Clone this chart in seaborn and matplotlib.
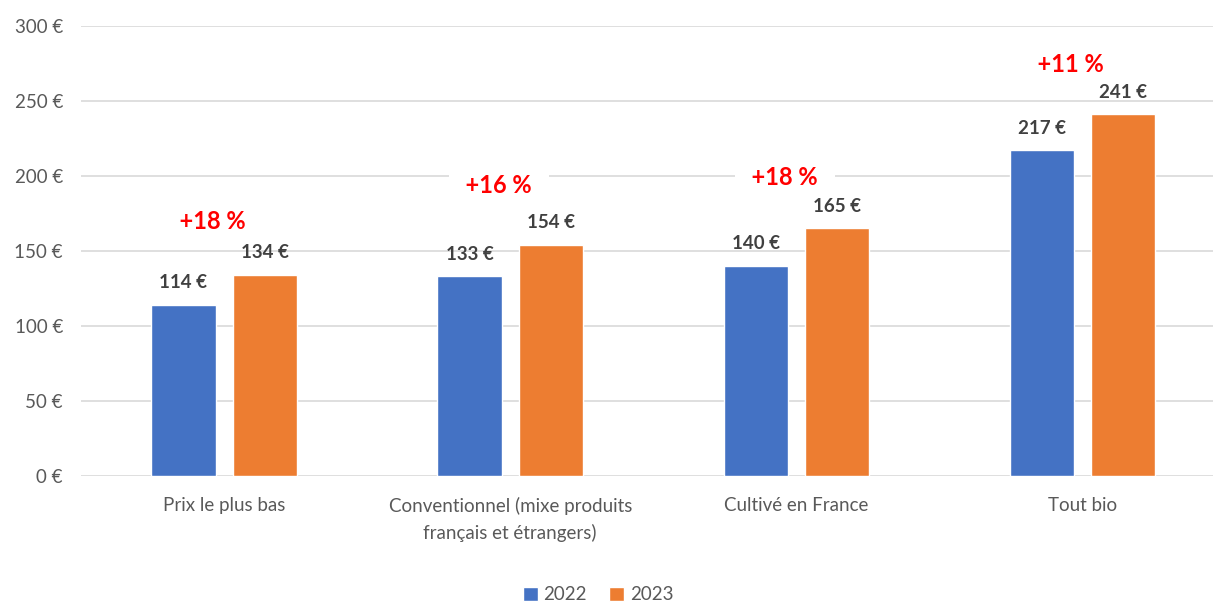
import matplotlib
matplotlib.use("Agg")
import matplotlib.pyplot as plt
import pandas as pd
import seaborn as sns

categories = [
    "Prix le plus bas",
    "Conventionnel (mixe produits\nfrançais et étrangers)",
    "Cultivé en France",
    "Tout bio",
]
years = ["2022", "2023"]
values_2022 = [114, 133, 140, 217]
values_2023 = [134, 154, 165, 241]
growth_labels = ["+18 %", "+16 %", "+18 %", "+11 %"]
y_ticks = [0, 50, 100, 150, 200, 250, 300]

# layout: how far above the taller bar each growth label sits (in €)
growth_offsets = [30.6, 34.3, 28.9, 28.4]

colors = {"2022": "#4472C4", "2023": "#ED7D31"}
text_grey = "#595959"
label_dark = "#404040"

df = pd.DataFrame({
    "category": categories * 2,
    "year": [years[0]] * len(categories) + [years[1]] * len(categories),
    "value": values_2022 + values_2023,
})

sns.set_theme(style="white")
plt.rcParams["font.family"] = ["Lato", "DejaVu Sans"]

fig = plt.figure(figsize=(12.14, 6.03), dpi=100)
ax = fig.add_axes([0.0667, 0.2106, 0.9325, 0.7468])

sns.barplot(
    data=df, x="category", y="value", hue="year", order=categories,
    hue_order=years, palette=colors, width=0.568, gap=0.21,
    saturation=1, ax=ax, legend=True, zorder=2,
)

ax.set_ylim(0, 300)
ax.set_xlim(-0.5, 3.456)
ax.set_yticks(y_ticks)
ax.set_yticklabels([f"{v} €" for v in y_ticks])
ax.yaxis.grid(True, color="#D9D9D9", linewidth=1.2, zorder=0)
ax.set_axisbelow(True)
for spine in ax.spines.values():
    spine.set_visible(False)
ax.set_xlabel("")
ax.set_ylabel("")
ax.tick_params(axis="y", length=0, pad=13, labelsize=13.5, labelcolor=text_grey)
ax.tick_params(axis="x", length=0, pad=15, labelsize=13.5, labelcolor=text_grey)
for lbl in ax.get_xticklabels():
    lbl.set_linespacing(1.6)

# value labels above each bar
for container in ax.containers:
    for bar in container:
        h = bar.get_height()
        ax.annotate(
            f"{h:.0f} €", xy=(bar.get_x() + bar.get_width() / 2, h),
            xytext=(0, 12), textcoords="offset points", ha="center",
            va="baseline", fontsize=13.5, fontweight="bold", color=label_dark,
        )

# growth labels, white box hides the gridline behind them
for i, txt in enumerate(growth_labels):
    top = max(values_2022[i], values_2023[i])
    ax.text(
        i - 0.04, top + growth_offsets[i], f"  {txt}  ", ha="center",
        va="baseline", fontsize=17, fontweight="bold", color="#FF0000",
        zorder=3, bbox=dict(facecolor="white", edgecolor="none", pad=4),
    )

handles, labels = ax.get_legend_handles_labels()
ax.get_legend().remove()
fig.legend(
    handles, labels, loc="center", bbox_to_anchor=(598 / 1214, 8 / 603),
    ncol=2, frameon=False, fontsize=13.5, labelcolor=text_grey,
    handlelength=0.8, handleheight=0.8, handletextpad=0.3, columnspacing=1.2,
)

fig.savefig("out.png", dpi=100)
